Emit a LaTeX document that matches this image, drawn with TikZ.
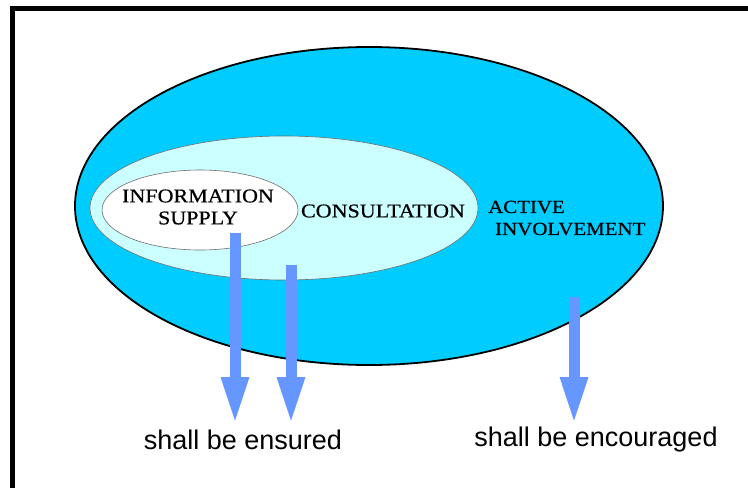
\documentclass[tikz,border=0pt]{standalone}
\usepackage{fontspec}
\setmainfont{Liberation Serif}
\newfontfamily\capsfont[FakeStretch=1.13,FakeBold=0.6]{Liberation Serif}
\newfontfamily\labelsans{Liberation Sans}
\usetikzlibrary{shapes.geometric,arrows.meta}
\definecolor{outerblue}{RGB}{0,204,255}
\definecolor{paleblue}{RGB}{204,255,255}
\definecolor{arrowblue}{RGB}{102,150,255}
\definecolor{rimgray}{RGB}{110,110,110}
\tikzset{
  zone/.style={ellipse, inner sep=0pt},
  caps/.style={font=\capsfont\fontsize{19.5}{22}\selectfont, align=center, inner sep=0pt},
  outcome/.style={font=\labelsans\fontsize{27}{30}\selectfont, inner sep=0pt},
  flow/.style={draw=arrowblue, line width=11pt,
    -{Triangle[width=25pt,length=48pt]}}
}
\begin{document}
\begin{tikzpicture}[x=1pt,y=-1pt]
\useasboundingbox (0,0) rectangle (748,488);
% frame: top and left edges
\fill[black] (10,6) rectangle (748,11);
\fill[black] (10,6) rectangle (15,488);
% nested participation levels
\node[zone, draw=black, line width=1.8pt, fill=outerblue,
  minimum width=588pt, minimum height=318pt] (active) at (369,206) {};
\node[zone, draw=rimgray, line width=0.6pt, fill=paleblue,
  minimum width=388pt, minimum height=144pt] (consult) at (284,208) {};
\node[zone, draw=rimgray, line width=0.6pt, fill=white,
  minimum width=196pt, minimum height=80pt] (info) at (200,210) {};
% level labels
\node[caps] (infolbl) at (198,207) {INFORMATION\\SUPPLY};
\node[caps] (consultlbl) at (383,211) {CONSULTATION};
\node[caps, font=\capsfont\fontsize{18.5}{22}\selectfont, align=left, anchor=west]
  (activelbl) at (488,218) {ACTIVE\\\hspace*{7pt}INVOLVEMENT};
% outcomes
\node[outcome] (ensured) at (243,440) {shall be ensured};
\node[outcome] (encouraged) at (596,440) {shall be encouraged};
% arrow end points
\coordinate (s1) at (235,233);
\coordinate (t1) at (235,425);
\coordinate (s2) at (291,265);
\coordinate (t2) at (291,425);
\coordinate (s3) at (574,297);
\coordinate (t3) at (574,425);
\draw[flow] (s1) -- (t1);
\draw[flow] (s2) -- (t2);
\draw[flow] (s3) -- (t3);
\end{tikzpicture}
\end{document}
